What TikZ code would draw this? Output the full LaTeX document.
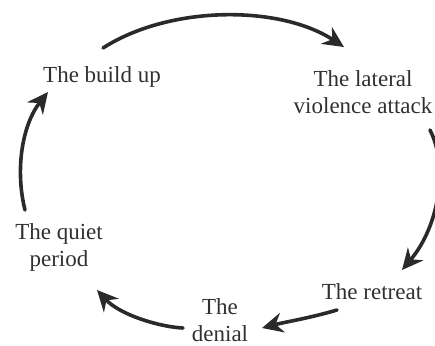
\documentclass[tikz,border=0pt]{standalone}
\usepackage{fontspec}
\setmainfont{Liberation Serif}
\usetikzlibrary{arrows.meta}
\definecolor{ink}{HTML}{2A2A2A}
\definecolor{txt}{HTML}{303030}
\begin{document}
\begin{tikzpicture}[x=1pt,y=-1pt,
  label/.style={text=txt,font=\fontsize{23}{27}\selectfont,inner sep=0pt,anchor=base,align=center},
  cyc/.style={draw=ink,line width=3.6pt,line cap=round,
    -{Stealth[length=21pt,width=20pt,inset=7pt]}}]
  \useasboundingbox (0,0) rectangle (435,345);
  \clip (0,0) rectangle (435,345);

  % stage labels (base anchor sits on the last line)
  \node[label] (build)   at (102,82)  {The build up};
  \node[label] (lateral) at (363,113) {The lateral\\violence attack};
  \node[label] (retreat) at (372,299) {The retreat};
  \node[label] (denial)  at (220,341) {The\\denial};
  \node[label] (quiet)   at (59,266)  {The quiet\\period};

  % arrow ends
  \coordinate (a1s) at (103,48);  \coordinate (a1e) at (344,47);
  \coordinate (a2s) at (430,130); \coordinate (a2e) at (402,270);
  \coordinate (a3s) at (337,310); \coordinate (a3e) at (262,328);
  \coordinate (a4s) at (183,328); \coordinate (a4e) at (97,290);
  \coordinate (a5s) at (25,210);  \coordinate (a5e) at (48,92);

  % cycle arrows
  \draw[cyc] (a1s) .. controls (170,5) and (280,5) .. (a1e);
  \draw[cyc] (a2s) .. controls (448,165) and (440,225) .. (a2e);
  \draw[cyc] (a3s) .. controls (310,318) and (285,322) .. (a3e);
  \draw[cyc] (a4s) .. controls (160,327) and (120,315) .. (a4e);
  \draw[cyc] (a5s) .. controls (15,170) and (22,125) .. (a5e);
\end{tikzpicture}
\end{document}
